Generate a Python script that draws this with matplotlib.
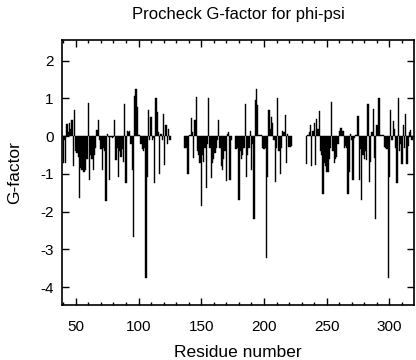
import matplotlib
matplotlib.use("Agg")
import matplotlib.pyplot as plt
from matplotlib.ticker import MultipleLocator

plt.rcParams['font.family'] = ['Liberation Sans', 'DejaVu Sans']
plt.rcParams['axes.unicode_minus'] = False

# residue ranges (segments with gaps between them)
seg1_start = 40
seg1 = [-0.72, -0.10, -0.72, 0.32, 0.10, 0.35, 0.20, 0.44, -0.80, 0.69,
        -0.40, -0.45, -0.55, -1.65, -0.85, -0.90, -0.95, -0.95, -0.90, -0.60,
        0.88, -1.16, -0.50, -0.60, -0.90, -0.50, -0.30, 0.16, 0.44, -0.10,
        -0.35, -0.90, -0.30, -0.40, -1.72, 0.07, -0.02, -1.15, -0.03, -0.05,
        -0.03, 0.42, -0.63, -0.30, -1.08, -0.40, -0.55, -0.35, -0.68, 0.86,
        -1.23, 0.14, 0.12, 0.14, -0.20, -0.90, -2.66, 1.06, 1.26, 0.78,
        0.02, 0.02, -0.20, -0.35, -0.40, -0.30, -3.75, -1.08, 0.69, -0.10,
        0.51, -0.10, -0.05, -1.23, 1.00, 0.64, 0.10, -1.01, 0.07, -0.10,
        0.58, -0.75, 0.29, -0.20, 0.18, -0.10]

seg2_start = 137
seg2 = [-0.30, -0.30, -0.99, -0.99, 0.03, 0.49, 0.10, -0.59, 0.44, 1.04,
        -0.40, -0.50, -0.70, -1.84, -0.50, -0.68, -0.30, -1.38, -0.20, 1.02,
        -0.30, -1.12, -0.70, -0.60, -0.45, -0.30, -0.10, 0.44, -0.30, -0.80,
        -0.90, -0.60, -0.40, -1.18, 0.07, 0.10, -1.15, -0.10]

seg3_start = 177
seg3 = [-0.35, -0.35, -0.30, -1.68, -0.40, -0.60, -0.50, -0.30, 0.86, -1.08,
        -0.50, -0.30, 0.14, -0.90, -0.20, -2.20, 0.97, 1.26, 0.82, 0.02,
        0.02, 0.02, -0.30, -0.35, -0.30, -3.24, -1.08, 0.69, 0.20, 0.51,
        0.34, -0.10, -1.21, -0.30, 1.00, -0.40, -1.00, -0.30, 0.15, 0.10,
        0.56, -0.72, 0.07, -0.28, -0.28, -0.25]

seg4_start = 234
seg4 = [-0.74, 0.03, 0.10, 0.31, -0.79, 0.15, 0.35, -0.77, 0.45, 0.20,
        0.67, -0.40, -0.50, -1.53, -0.70, -0.80, -0.94, -0.94, -0.60, -0.30,
        0.91, -0.40, -0.70, -0.60, -0.55, -0.20, 0.15, 0.23, 0.23, 0.15,
        -0.30, -0.25, -0.30, -1.52, -0.94, 0.07, -0.10, -1.16, -0.05, 0.02,
        0.02, 0.53, -1.15, -0.35, -1.68, -0.50, -0.60, -0.40, -0.63, 0.86,
        -1.21, -0.68, 0.10, 0.73, -0.59, -2.20, 0.30, 1.02, 1.00, 0.02,
        0.02, 0.02, -0.28, -0.30, -0.35, -3.75, -1.08, 0.69, -0.10, 0.41,
        0.20, -0.30, -1.23, 1.00, -0.40, -0.20, -0.74, 0.30, -0.30, 0.58,
        -0.73, -0.26, 0.10, 0.16, -0.10]

residues = []
gfactor = []
for start, vals in [(seg1_start, seg1), (seg2_start, seg2),
                    (seg3_start, seg3), (seg4_start, seg4)]:
    residues += list(range(start, start + len(vals)))
    gfactor += vals

fig = plt.figure(figsize=(4.16, 3.6), dpi=100)
ax = fig.add_axes([0.149, 0.153, 0.846, 0.736])

ax.bar(residues, gfactor, width=1.0, color='black', edgecolor='black', linewidth=0.3)

ax.set_xlim(39, 319.5)
ax.set_ylim(-4.47, 2.55)
ax.xaxis.set_major_locator(MultipleLocator(50))
ax.xaxis.set_minor_locator(MultipleLocator(10))
ax.yaxis.set_major_locator(MultipleLocator(1))
ax.tick_params(which='both', direction='in', top=True, right=True, labelsize=11)
ax.tick_params(which='major', length=5, width=1)
ax.tick_params(which='minor', length=2.5, width=1)
ax.tick_params(axis='x', which='major', pad=10.5)
ax.tick_params(axis='y', which='major', pad=6)
for s in ax.spines.values():
    s.set_linewidth(1.2)

ax.set_xlabel('Residue number', fontsize=12.5, labelpad=8)
ax.set_ylabel('G-factor', fontsize=12.5, labelpad=13)
ax.set_title('Procheck G-factor for phi-psi', fontsize=12, pad=15)

fig.savefig('out.png', dpi=100)
